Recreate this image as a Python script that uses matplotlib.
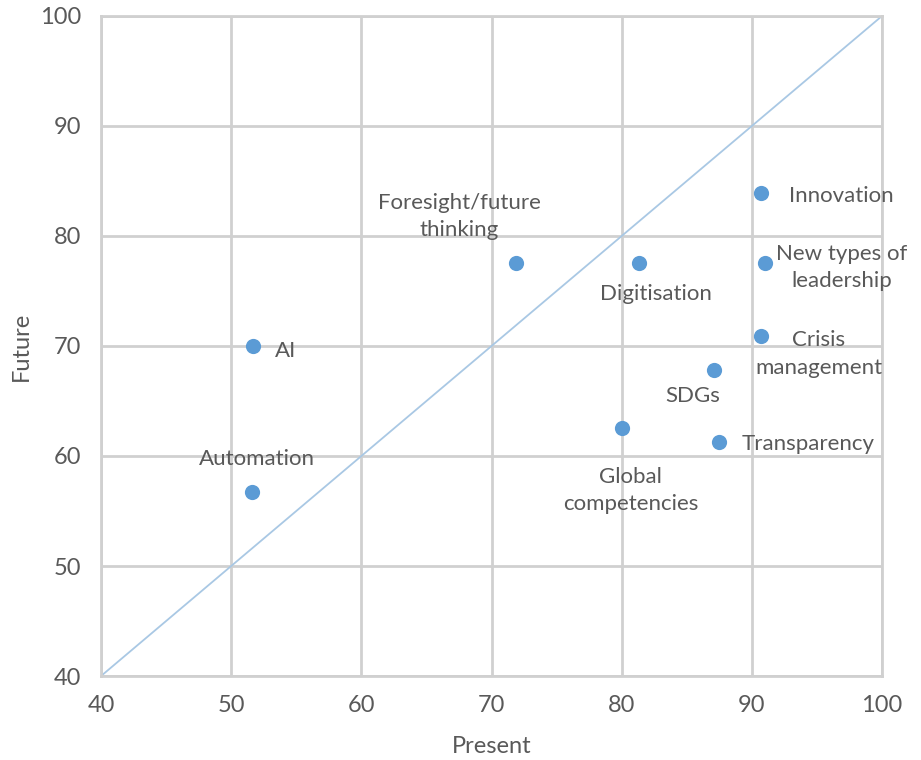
import matplotlib
matplotlib.use("Agg")
import matplotlib.pyplot as plt

plt.rcParams['font.family'] = ['Lato', 'DejaVu Sans']

# Skill ratings: present importance vs expected future importance
skills = ["AI", "Automation", "Foresight/future\nthinking", "Digitisation",
          "Innovation", "New types of\nleadership", "Crisis\nmanagement",
          "SDGs", "Global\ncompetencies", "Transparency"]
present = [51.7, 51.6, 71.9, 81.3, 90.7, 91.0, 90.7, 87.1, 80.0, 87.5]
future = [70.0, 56.7, 77.5, 77.5, 83.9, 77.5, 70.9, 67.8, 62.5, 61.3]

# label placement: (dx, dy) in pixels and horizontal alignment
label_pos = [(22, -5, 'left'), (5, 33, 'center'), (-57, 47, 'center'),
             (17, -31, 'center'), (28, -3, 'left'), (77, -4, 'center'),
             (58, -18, 'center'), (-21, -26, 'center'), (9, -62, 'center'),
             (22, -2, 'left')]

ticks = [40, 50, 60, 70, 80, 90, 100]

text_col = '#595959'
grid_col = '#d0d0d0'
point_col = '#5b9bd5'
diag_col = '#a9c8e4'

fig = plt.figure(figsize=(9.21, 7.6), dpi=100)
ax = fig.add_axes([0.1097, 0.1105, 0.848, 0.8685])

ax.set_xlim(40, 100)
ax.set_ylim(40, 100)
ax.set_xticks(ticks)
ax.set_yticks(ticks)
ax.grid(True, color=grid_col, linewidth=2, zorder=0)
ax.set_axisbelow(True)
for s in ax.spines.values():
    s.set_color(grid_col)
    s.set_linewidth(2)
ax.tick_params(length=0, labelsize=17, labelcolor=text_col)
ax.tick_params(axis='x', pad=14)
ax.tick_params(axis='y', pad=14)

# reference line: present = future
ax.plot([40, 100], [40, 100], color=diag_col, linewidth=1.3, zorder=2)

ax.scatter(present, future, s=120, color=point_col, zorder=3, linewidths=0)

for name, x, y, (dx, dy, ha) in zip(skills, present, future, label_pos):
    ax.annotate(name, (x, y), xytext=(dx, dy), textcoords='offset pixels',
                ha=ha, va='center', multialignment='center',
                fontsize=16, color=text_col, linespacing=1.45, zorder=4)

ax.set_xlabel("Present", fontsize=17, color=text_col, labelpad=14)
ax.set_ylabel("Future", fontsize=17, color=text_col, labelpad=6)

fig.savefig("out.png", dpi=100, facecolor='white')
